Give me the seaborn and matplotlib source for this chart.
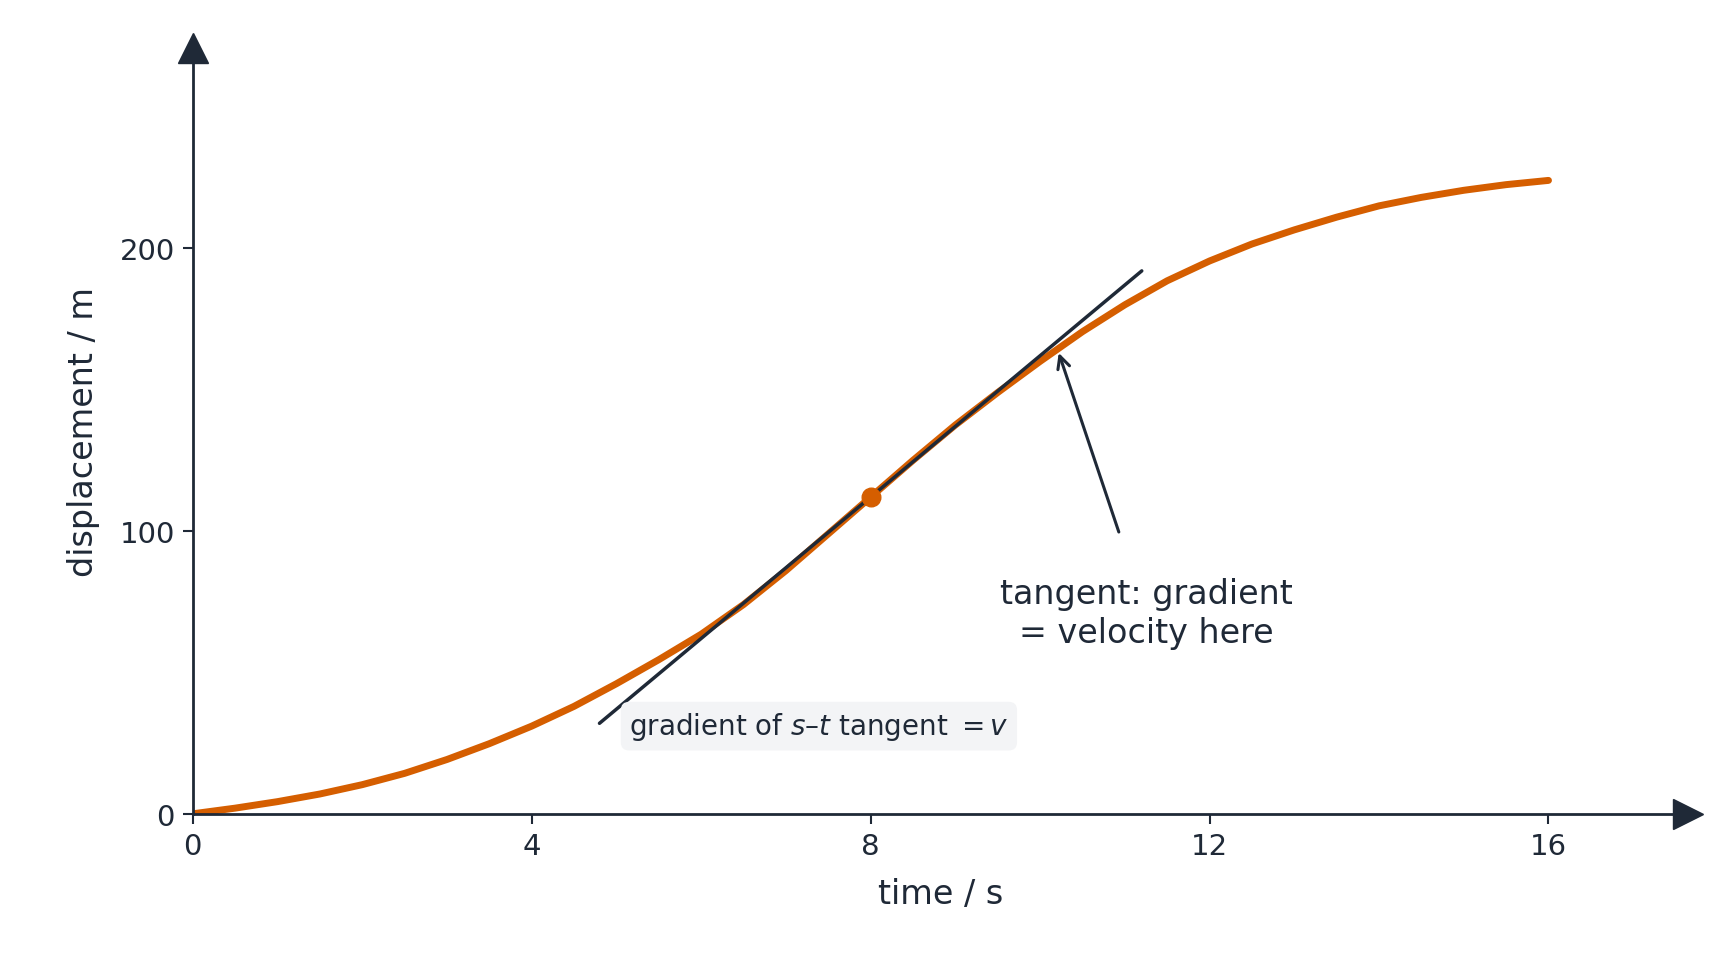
import matplotlib
matplotlib.use("Agg")
import matplotlib.pyplot as plt
import seaborn as sns
import pandas as pd

time_s = [0, 0.5, 1, 1.5, 2, 2.5, 3, 3.5, 4, 4.5, 5, 5.5, 6, 6.5, 7, 7.5, 8, 8.5,
          9, 9.5, 10, 10.5, 11, 11.5, 12, 12.5, 13, 13.5, 14, 14.5, 15, 15.5, 16]
disp_m = [0, 2, 4.3, 7, 10.3, 14.3, 19.2, 24.8, 31, 38, 46, 54.5, 63.5, 74, 86, 99, 112, 125,
          137.5, 149, 160, 170.5, 180, 188.5, 195.5, 201.5, 206.5, 211, 215, 218, 220.5, 222.5, 224]
tangent_t = [4.8, 11.2]
tangent_s = [32, 192]
point_t = [8]
point_s = [112]
xticks = [0, 4, 8, 12, 16]
yticks = [0, 100, 200]

dark = "#1f2937"
orange = "#d55e00"

sns.set_theme(style="white")
plt.rcParams['font.family'] = ['DejaVu Sans']
fig = plt.figure(figsize=(17.21, 9.7), dpi=100)
ax = fig.add_axes([0.112, 0.16, 0.869, 0.79])

df = pd.DataFrame({"t": time_s, "s": disp_m})
sns.lineplot(data=df, x="t", y="s", ax=ax, color=orange, lw=5, solid_capstyle="round")
sns.lineplot(x=tangent_t, y=tangent_s, ax=ax, color=dark, lw=2.5)
ax.scatter(point_t, point_s, color=orange, s=180, zorder=5)

ax.set_xlim(0, 17.65)
ax.set_ylim(0, 271)
ax.set_xticks(xticks)
ax.set_yticks(yticks)
ax.tick_params(axis="both", direction="out", length=7, width=1.5, color=dark,
               labelsize=21, labelcolor=dark, left=True, bottom=True, pad=6)
for side in ["top", "right"]:
    ax.spines[side].set_visible(False)
for side in ["left", "bottom"]:
    ax.spines[side].set_color(dark)
    ax.spines[side].set_linewidth(2)
ax.plot(1, 0, ">", transform=ax.transAxes, color=dark, ms=22, clip_on=False)
ax.plot(0, 1, "^", transform=ax.transAxes, color=dark, ms=22, clip_on=False)

ax.set_xlabel("time / s", fontsize=24, color=dark, labelpad=12)
ax.set_ylabel("displacement / m", fontsize=24, color=dark, labelpad=14)

ax.text(5.15, 31, "gradient of $s$–$t$ tangent $= v$", fontsize=20, color=dark,
        va="center", ha="left",
        bbox=dict(boxstyle="round,pad=0.3", fc="#f3f4f6", ec="none"))
ax.annotate("tangent: gradient\n= velocity here", xy=(10.22, 163), xytext=(11.25, 71),
            fontsize=24, color=dark, ha="center", va="center",
            arrowprops=dict(arrowstyle="->", color=dark, lw=2.2, mutation_scale=22,
                            shrinkA=32, shrinkB=0))

fig.savefig("out.png", dpi=100)
